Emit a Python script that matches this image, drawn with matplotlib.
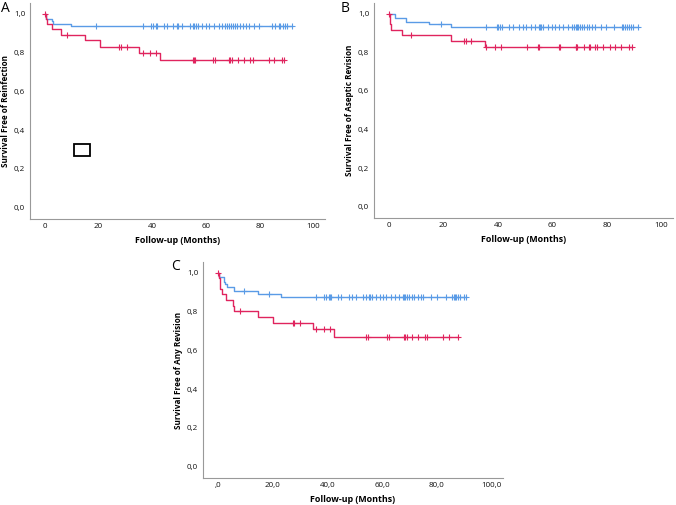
import numpy as np
import matplotlib
matplotlib.use('Agg')
import matplotlib.pyplot as plt
from matplotlib.patches import Rectangle
from matplotlib.ticker import FuncFormatter

plt.rcParams['font.family'] = ['Open Sans', 'DejaVu Sans']

blue = '#5a9be6'
red = '#e0245e'

# Panel A - reinfection
a_blue_t = [0, 0.4, 2.7, 3.2, 9.6, 92]
a_blue_s = [1.0, 0.974, 0.96, 0.948, 0.934, 0.934]
a_blue_c = [19.1, 36.4, 39.5, 40.1, 41.4, 41.8, 44.2, 45.4, 47.9, 49.1, 49.7, 51.2, 54, 55,
            55.6, 56.2, 57, 58.6, 60, 61, 63, 64.8, 66, 67, 67.7, 68.5, 69.4, 70, 70.7,
            71.6, 72.8, 73.8, 75, 76, 77.8, 79.6, 84.6, 85.8, 87, 87.7, 88.6, 89.5, 90, 92]
a_red_t = [0, 0.3, 1.0, 2.85, 5.9, 15.1, 20.4, 35, 43, 89]
a_red_s = [1.0, 0.97, 0.945, 0.919, 0.888, 0.862, 0.828, 0.799, 0.762, 0.762]
a_red_c = [0.1, 8.3, 27.8, 28.4, 30.5, 36.4, 39.3, 41.4, 55, 55.6, 56, 62.7, 63.2, 68.5,
           69.1, 69.5, 71.9, 74, 76.5, 77.4, 83.3, 85.4, 88.3, 88.9]

# Panel B - aseptic revision
b_blue_t = [0, 2.2, 6.1, 14.7, 22.9, 91.4]
b_blue_s = [1.0, 0.976, 0.959, 0.945, 0.932, 0.932]
b_blue_c = [19, 35.6, 39.5, 40.2, 40.8, 41.5, 44.2, 45.4, 47.9, 49.1, 50.3, 52.1, 53.7, 55,
            55.5, 56, 56.6, 58.3, 59.8, 61, 62.6, 64, 65.6, 67.2, 68.1, 68.5, 68.9, 69.3,
            70.1, 70.9, 71.7, 72.6, 73.6, 74.6, 75.5, 77.9, 79.8, 82.8, 85.6, 86.1, 86.7,
            87.3, 88.1, 88.7, 89.6, 91.4]
b_red_t = [0, 0.4, 0.9, 4.9, 22.7, 35.2, 89.3]
b_red_s = [1.0, 0.945, 0.914, 0.889, 0.86, 0.825, 0.825]
b_red_c = [0.1, 8, 27.6, 28.2, 30.3, 35.8, 38.9, 41.3, 50.6, 54.6, 55.2, 62.3, 62.8, 68.5,
           68.8, 69.1, 71.5, 73.4, 73.9, 75.8, 76.4, 78.5, 81.2, 82.9, 85.3, 88, 89.3]

# Panel C - any revision
c_blue_t = [0, 0.4, 2.2, 2.6, 3.4, 5.9, 14.7, 23, 90.8]
c_blue_s = [1.0, 0.976, 0.954, 0.94, 0.925, 0.906, 0.892, 0.877, 0.877]
c_blue_c = [9.5, 18.7, 35.8, 38.9, 39.5, 40.5, 41, 41.3, 43.8, 45, 48, 49, 50.5, 53.2, 54.2,
            55.1, 55.6, 56.4, 57.8, 59.3, 60.5, 61.5, 63.3, 64.9, 66.1, 67.6, 68.2, 68.6,
            69.1, 70, 71, 71.9, 73.1, 74.3, 74.9, 78, 80.1, 83.3, 85.7, 86.2, 86.6, 87.2,
            87.8, 88.4, 89.9, 90.8]
c_red_t = [0, 0.4, 0.6, 1.3, 2.8, 5.3, 5.9, 14.7, 20.2, 34.6, 42.3, 88]
c_red_s = [1.0, 0.971, 0.914, 0.889, 0.86, 0.829, 0.803, 0.771, 0.743, 0.709, 0.668, 0.668]
c_red_c = [0.1, 7.9, 27.3, 27.9, 30, 35.8, 38.9, 41, 54.2, 54.8, 61.9, 62.5, 68.2, 68.6,
           69.1, 71, 73.1, 75.9, 76.5, 82.5, 84.7, 88]

# small box drawn inside panel A
box_xy = (10.7, 0.266)
box_w, box_h = 6.0, 0.06


def surv_at(t, s, c):
    idx = np.searchsorted(t, c, side='right') - 1
    return np.array(s)[idx]


def draw_km(ax, t, s, c, color):
    ax.step(t, s, where='post', color=color, lw=1.0)
    ax.plot(c, surv_at(t, s, c), ls='none', marker='+', color=color,
            ms=4.5, mew=0.8)


def style_ax(ax, ylabel, xfmt):
    ax.set_xlim(-5.5, 104.3)
    ax.set_ylim(-0.058, 1.055)
    ax.set_xticks([0, 20, 40, 60, 80, 100])
    ax.set_yticks([0, 0.2, 0.4, 0.6, 0.8, 1.0])
    ax.xaxis.set_major_formatter(FuncFormatter(xfmt))
    ax.yaxis.set_major_formatter(FuncFormatter(lambda v, p: f'{v:.1f}'.replace('.', ',')))
    ax.tick_params(length=0, labelsize=5.8, colors='#111111')
    ax.tick_params(axis='x', pad=3)
    ax.tick_params(axis='y', pad=3.5)
    for side in ['top', 'right']:
        ax.spines[side].set_visible(False)
    for side in ['left', 'bottom']:
        ax.spines[side].set_color('#999999')
        ax.spines[side].set_linewidth(0.8)
    ax.set_xlabel('Follow-up (Months)', fontsize=6.4, fontweight='bold', labelpad=4)
    ax.set_ylabel(ylabel, fontsize=5.9, fontweight='bold', labelpad=2.5)


fig = plt.figure(figsize=(6.76, 5.05), dpi=100)
W, H = 676, 505

axA = fig.add_axes([30 / W, 1 - 219 / H, 295 / W, 216 / H])
axB = fig.add_axes([374 / W, 1 - 218 / H, 299 / W, 215 / H])
axC = fig.add_axes([203 / W, 1 - 478 / H, 300 / W, 216 / H])

draw_km(axA, a_blue_t, a_blue_s, a_blue_c, blue)
draw_km(axA, a_red_t, a_red_s, a_red_c, red)
draw_km(axB, b_blue_t, b_blue_s, b_blue_c, blue)
draw_km(axB, b_red_t, b_red_s, b_red_c, red)
draw_km(axC, c_blue_t, c_blue_s, c_blue_c, blue)
draw_km(axC, c_red_t, c_red_s, c_red_c, red)

int_fmt = lambda v, p: f'{v:.0f}'
style_ax(axA, 'Survival Free of Reinfection', int_fmt)
style_ax(axB, 'Survival Free of Aseptic Revision', int_fmt)
style_ax(axC, 'Survival Free of Any Revision',
         lambda v, p: ',0' if v == 0 else f'{v:.1f}'.replace('.', ','))

axA.add_patch(Rectangle(box_xy, box_w, box_h, fill=False, ec='black', lw=1.3))

fig.text(1 / W, 1 - 8 / H, 'A', fontsize=10, va='center', ha='left')
fig.text(341 / W, 1 - 8 / H, 'B', fontsize=10, va='center', ha='left')
fig.text(171 / W, 1 - 266 / H, 'C', fontsize=10, va='center', ha='left')

fig.savefig('out.png', dpi=100)
